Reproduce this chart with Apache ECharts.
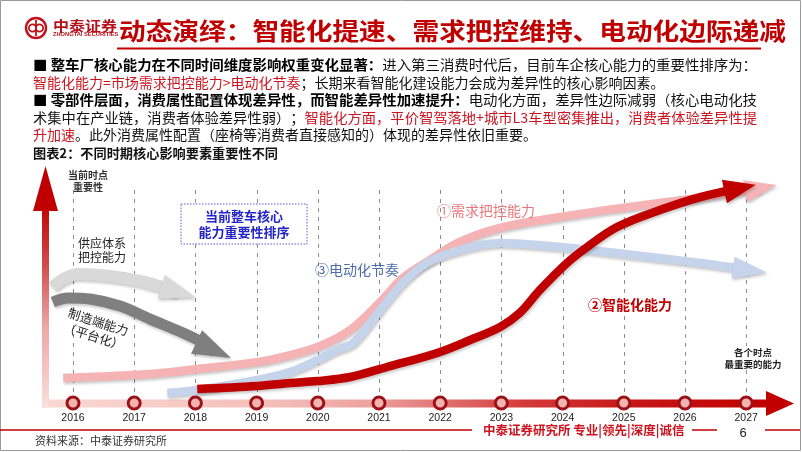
<!DOCTYPE html>
<html><head><meta charset="utf-8">
<script src="https://cdn.jsdelivr.net/npm/echarts@6/dist/echarts.min.js"></script>
<style>html,body{margin:0;padding:0;background:#fff}#c{width:802px;height:452px}</style>
</head><body><div id="c"></div>
<script>
// ---------- data ----------
const years = [2016, 2017, 2018, 2019, 2020, 2021, 2022, 2023, 2024, 2025, 2026, 2027];
// [year, relative importance 0-100]
const supplyChainCurve = [[2015.67,54.5],[2015.84,58.2],[2016.08,60.6],[2016.60,59.6],[2017.09,57.3],[2017.45,54.5],[2017.72,52.1]];
const manufacturingCurve = [[2015.67,47.4],[2015.92,49.3],[2016.28,48.8],[2016.77,45.5],[2017.26,39.4],[2017.80,32.9],[2018.04,29.6],[2018.30,24.9]];
const demandCurve = [[2015.84,11.7],[2017.26,13.6],[2018.03,16.0],[2019.01,19.2],[2019.55,22.5],[2020.04,26.8],[2020.53,34.3],[2021.02,47.4],[2021.39,58.7],[2021.83,67.1],[2022.32,75.6],[2022.98,82.2],[2023.96,87.3],[2024.95,91.5],[2025.97,95.3],[2026.98,99.5],[2027.24,100.9]];
const electrificationCurve = [[2017.54,4.7],[2018.03,6.1],[2019.01,10.8],[2019.55,14.6],[2019.99,20.2],[2020.31,24.9],[2020.58,28.2],[2021.02,43.7],[2021.39,56.3],[2021.78,65.7],[2022.32,71.8],[2022.98,75.1],[2023.96,73.2],[2025.15,69.5],[2026.25,65.7],[2027.06,62.4]];
const intelligenceCurve = [[2018.03,6.6],[2019.01,8.0],[2019.55,9.4],[2019.99,10.3],[2020.53,12.2],[2021.13,16.9],[2021.95,23.5],[2022.49,29.6],[2022.98,35.7],[2023.30,42.3],[2023.63,53.1],[2024.07,65.7],[2024.40,73.2],[2024.89,82.6],[2025.59,90.6],[2026.25,96.7],[2026.90,100.9]];
// top of the dashed year guides (importance scale)
const guideTop = [100];

const titleText = '动态演绎：智能化提速、需求把控维持、电动化边际递减';
const bodyLines = [
  [['b','■ 整车厂核心能力在不同时间维度影响权重变化显著：'],['n','进入第三消费时代后，目前车企核心能力的重要性排序为：']],
  [['r','智能化能力=市场需求把控能力>电动化节奏'],['n','；长期来看智能化建设能力会成为差异性的核心影响因素。']],
  [['b','■ 零部件层面，消费属性配置体现差异性，而智能差异性加速提升：'],['n','电动化方面，差异性边际减弱（核心电动化技']],
  [['n','术集中在产业链，消费者体验差异性弱）；'],['r','智能化方面，平价智驾落地+城市L3车型密集推出，消费者体验差异性提']],
  [['r','升加速'],['n','。此外消费属性配置（座椅等消费者直接感知的）体现的差异性依旧重要。']]
];
const bodyJustify = [true, false, true, true, false];
const chartHeading = '图表2：不同时期核心影响要素重要性不同';
const sourceText = '资料来源：中泰证券研究所';
const footerText = '中泰证券研究所 专业|领先|深度|诚信';
const pageNo = '6';

// ---------- helpers ----------
const FF = '"Noto Sans CJK SC","Noto Sans",sans-serif';
const mctx = document.createElement('canvas').getContext('2d');
function tw(t, size, weight) { mctx.font = (weight || 'normal') + ' ' + size + 'px ' + FF; return mctx.measureText(t).width; }
function txt(o) {
  const s = Object.assign({fontFamily: FF, fill: '#222', fontSize: 12, align: 'left', verticalAlign: 'middle'}, o.style);
  s.textAlign = s.align; s.textVerticalAlign = s.verticalAlign;
  return Object.assign({type: 'text', z: 60, silent: true}, o, {style: s});
}
const RED = '#c00000';

const graphics = [];
// page frame
graphics.push({type:'polyline', z:0, silent:true, shape:{points:[[0.5,0.5],[800.5,0.5],[800.5,450.5],[0.5,450.5],[0.5,0.5]]}, style:{stroke:'#9a9a9a', lineWidth:1, fill:null}});
// logo
graphics.push({type:'circle', z:60, silent:true, shape:{cx:36,cy:28,r:10}, style:{fill:'#fff', stroke:'#c0141c', lineWidth:2.4}});
graphics.push({type:'circle', z:61, silent:true, shape:{cx:32.5,cy:28,r:3.6}, style:{fill:null, stroke:'#c0141c', lineWidth:1.8}});
graphics.push({type:'circle', z:61, silent:true, shape:{cx:39.5,cy:28,r:3.6}, style:{fill:null, stroke:'#c0141c', lineWidth:1.8}});
graphics.push({type:'line', z:61, silent:true, shape:{x1:36,y1:20,x2:36,y2:36}, style:{stroke:'#c0141c', lineWidth:1.8}});
const logoW = tw('中泰证券', 14, 'bold');
graphics.push(txt({x:53, y:26, scaleX:64/logoW, style:{text:'中泰证券', fontSize:14, fontWeight:'bold', fill:'#b5121b'}}));
const subW = tw('ZHONGTAI SECURITIES', 5.5, 'bold');
graphics.push(txt({x:53, y:34.5, scaleX:64/subW, style:{text:'ZHONGTAI SECURITIES', fontSize:5.5, fontWeight:'bold', fill:'#b5121b', fontFamily:'"Liberation Sans",Arial,sans-serif'}}));
// title
const titleW = tw(titleText, 24, 'bold');
graphics.push(txt({x:119, y:31, scaleX:667/titleW, style:{text:titleText, fontSize:24, fontWeight:'bold', fill:RED}}));
graphics.push({type:'line', z:60, silent:true, shape:{x1:117,y1:48.5,x2:761,y2:48.5}, style:{stroke:RED, lineWidth:2}});
// body text
const richStyles = {
  b: {fontSize:14, fontWeight:'bold', fill:'#000', fontFamily:FF},
  n: {fontSize:14, fill:'#111', fontFamily:FF},
  r: {fontSize:14, fill:'#cc1420', fontFamily:FF}
};
const lineYs = [65, 82.5, 100, 117.5, 135];
bodyLines.forEach((segs, i) => {
  let w = 0;
  segs.forEach(([k, t]) => { w += tw(t, 14, k === 'b' ? 'bold' : 'normal'); });
  const sx = bodyJustify[i] ? (757 - 33) / w : 1;
  const text = segs.map(([k, t]) => '{' + k + '|' + t + '}').join('');
  graphics.push(txt({x:33, y:lineYs[i], scaleX:sx, style:{text, rich:richStyles, fontSize:14}}));
});
// chart heading
const headW = tw(chartHeading, 13, 'bold');
graphics.push(txt({x:33, y:153, scaleX:245/headW, style:{text:chartHeading, fontSize:13, fontWeight:'bold', fill:'#111'}}));

// axis arrows
graphics.push({type:'rect', z:1, silent:true, shape:{x:42,y:205,width:7,height:203},
  style:{fill:new echarts.graphic.LinearGradient(0,0,0,1,[{offset:0,color:'#c00000'},{offset:0.3,color:'#d24e50'},{offset:0.6,color:'#eca7a6'},{offset:1,color:'#fae0dc'}])}});
graphics.push({type:'polygon', z:1, silent:true, shape:{points:[[33,211],[45.5,166],[58,211]]}, style:{fill:'#c00000'}});
graphics.push({type:'rect', z:1, silent:true, shape:{x:48,y:399.5,width:720,height:8},
  style:{fill:new echarts.graphic.LinearGradient(0,0,1,0,[{offset:0,color:'#fad8d2'},{offset:0.3,color:'#f5c0bc'},{offset:0.45,color:'#eda29f'},{offset:0.55,color:'#e07272'},{offset:0.66,color:'#d43a3a'},{offset:0.8,color:'#c81818'},{offset:1,color:'#c00000'}])}});
graphics.push({type:'polygon', z:1, silent:true, shape:{points:[[766,391],[794,403.5],[766,416]]}, style:{fill:'#c00000'}});

// annotations
graphics.push(txt({x:88, y:181, style:{text:'当前时点\n重要性', fontSize:10, fontWeight:'bold', fill:'#333', align:'center', lineHeight:12}}));
graphics.push(txt({x:78, y:250, style:{text:'供应体系\n把控能力', fontSize:12, fill:'#222', lineHeight:14}}));
graphics.push(txt({x:96, y:329, rotation:-0.31, style:{text:'制造端能力\n（平台化）', fontSize:12.5, fill:'#222', align:'center', lineHeight:15}}));
graphics.push({type:'rect', z:58, silent:true, shape:{x:181,y:204,width:126,height:40}, style:{fill:'#fff', stroke:'#5a5ad8', lineWidth:1, lineDash:[1.5,1.5]}});
graphics.push(txt({x:244, y:224, style:{text:'当前整车核心\n能力重要性排序', fontSize:13, fontWeight:'bold', fill:'#2424c8', align:'center', lineHeight:16}}));
graphics.push(txt({x:315, y:270, style:{text:'③电动化节奏', fontSize:14, fill:'#4b6cab'}}));
graphics.push(txt({x:437, y:211, style:{text:'①需求把控能力', fontSize:14, fill:'#e8787c'}}));
graphics.push(txt({x:588, y:305, style:{text:'②智能化能力', fontSize:14, fontWeight:'bold', fill:RED}}));
graphics.push(txt({x:753, y:358, style:{text:'各个时点\n最重要的能力', fontSize:9.5, fontWeight:'bold', fill:'#222', align:'center', lineHeight:12, backgroundColor:'#fff'}}));

// footer
graphics.push({type:'line', z:60, silent:true, shape:{x1:0,y1:430,x2:472,y2:430}, style:{stroke:RED, lineWidth:1.5}});
graphics.push(txt({x:483, y:430, style:{text:footerText, fontSize:12.5, fontWeight:'bold', fill:'#cc1420'}}));
graphics.push({type:'line', z:60, silent:true, shape:{x1:692,y1:430,x2:717,y2:430}, style:{stroke:RED, lineWidth:1.5}});
graphics.push(txt({x:743, y:433, style:{text:pageNo, fontSize:13, fill:'#222', align:'center', fontFamily:'"Liberation Sans",Arial,sans-serif'}}));
graphics.push({type:'line', z:60, silent:true, shape:{x1:765,y1:430,x2:800,y2:430}, style:{stroke:RED, lineWidth:1.5}});
graphics.push(txt({x:35, y:441, style:{text:sourceText, fontSize:11, fill:'#333'}}));

// ---------- series ----------
function curveSeries(name, pts, color, width, arrowSize, arrowRotate, z) {
  const data = pts.map((p, i) => i === pts.length - 1
    ? {value: p, symbol: 'triangle', symbolSize: arrowSize, symbolRotate: arrowRotate}
    : {value: p});
  const sh = {shadowColor:'rgba(0,0,0,0.22)', shadowBlur:3, shadowOffsetX:1, shadowOffsetY:2};
  return {type:'line', name, data, smooth:0.35, symbol:'none', showSymbol:true, clip:false, z, silent:true,
    lineStyle:Object.assign({color, width, cap:'butt'}, sh),
    itemStyle:Object.assign({color}, sh), emphasis:{disabled:true}};
}

const option = {
  animation: false,
  grid: {left: 73 - 61.2, right: 802 - (73 + 11.6 * 61.2), top: 190, bottom: 49, outerBoundsMode: 'none'},
  xAxis: {type:'value', min:2015, max:2027.6, interval:1,
    axisLine:{show:false}, axisTick:{show:false}, splitLine:{show:false},
    axisLabel:{margin:10, fontSize:10.5, color:'#222', fontFamily:'"Liberation Sans",Arial,sans-serif',
      formatter: v => (Number.isInteger(v) && v >= years[0] && v <= years[years.length - 1]) ? String(v) : ''}},
  yAxis: {type:'value', min:0, max:100, show:false},
  graphic: {elements: graphics},
  series: [
    {type:'scatter', name:'years', data: years.map(y => [y, 0]), symbolSize:12, z:56, silent:true,
      itemStyle:{color:'#f3b4b0', borderColor:'#9c1018', borderWidth:3, opacity:1}},
    curveSeries('供应体系把控能力', supplyChainCurve, '#d9d9d9', 12, [25,36], -107, 50),
    curveSeries('制造端能力（平台化）', manufacturingCurve, '#7f7f7f', 11, [26,38], -115, 51),
    curveSeries('①需求把控能力', demandCurve, '#f5b3b5', 8.5, [22,32], -79, 52),
    curveSeries('③电动化节奏', electrificationCurve, '#c5d4ea', 8.5, [22,34], -98, 53),
    curveSeries('②智能化能力', intelligenceCurve, '#c00000', 8.5, [24,32], -78, 54)
  ]
};
const chart = echarts.init(document.getElementById('c'), null, {renderer:'canvas'});
chart.setOption(option);

// dashed year guides, positioned through the chart's own axis scales
const guideEls = years.map(y => {
  const p0 = chart.convertToPixel({gridIndex: 0}, [y, 0]);
  const p1 = chart.convertToPixel({gridIndex: 0}, [y, guideTop[0]]);
  const x = Math.round(p0[0]) + 0.5;
  return {type:'line', z:40, silent:true, shape:{x1:x, y1:p1[1], x2:x, y2:p0[1] - 5},
    style:{stroke:'#8c8c8c', lineWidth:1, lineDash:[4, 5]}};
});
chart.setOption({graphic: {elements: graphics.concat(guideEls)}});
</script></body></html>
